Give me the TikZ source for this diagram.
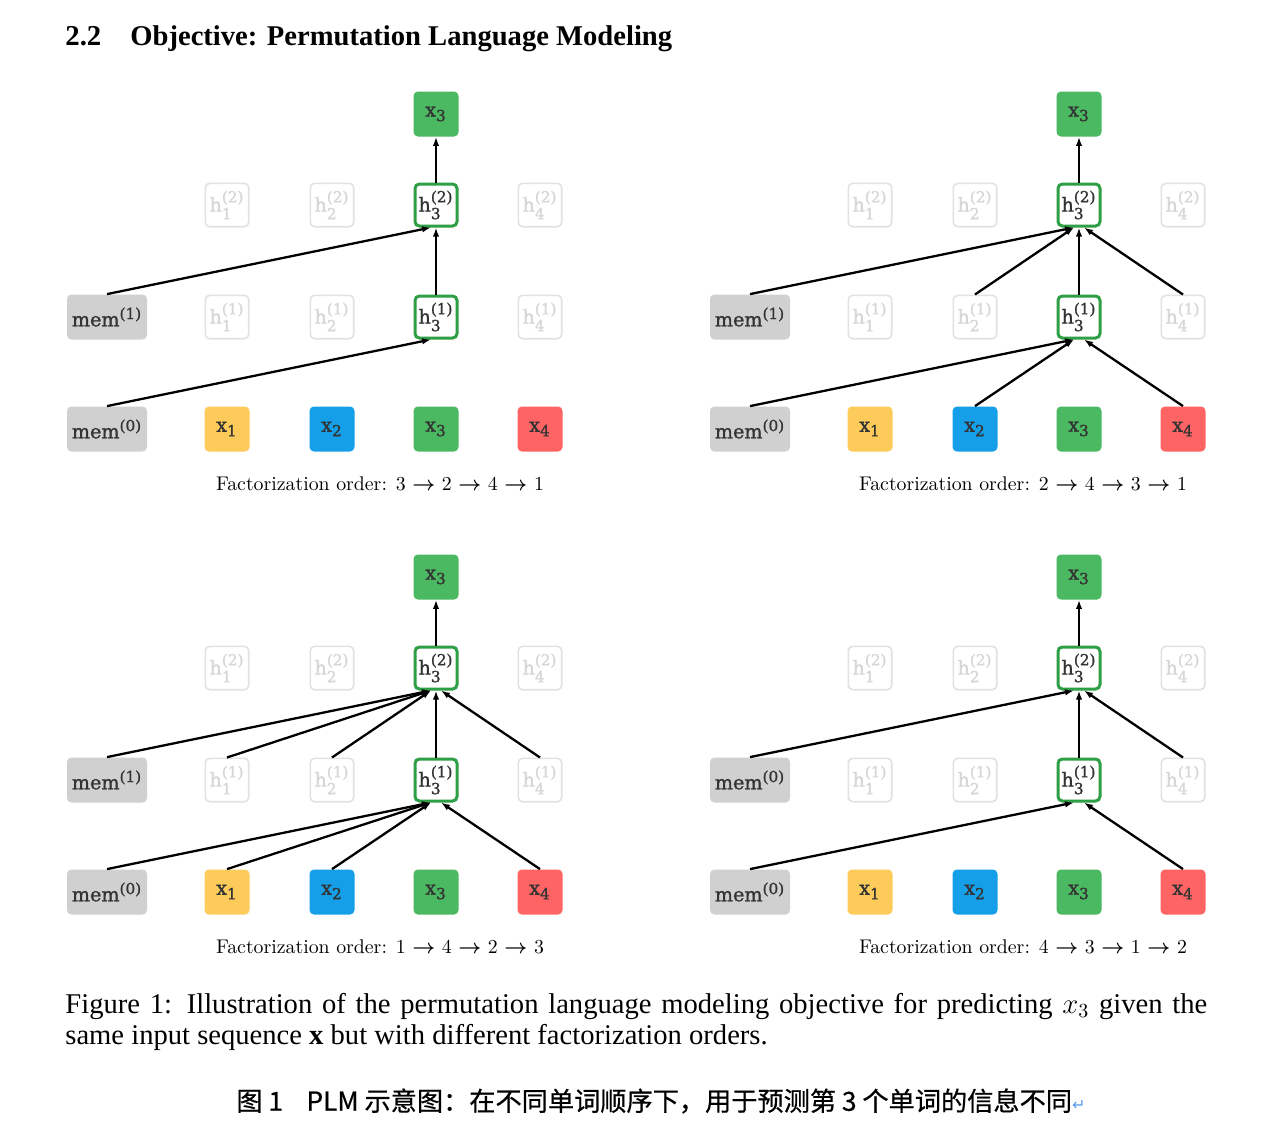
\documentclass[tikz,border=0pt]{standalone}
\usepackage{fontspec}
\usepackage{amsmath}
\newfontfamily\boxfont{DejaVu Serif}[UprightFeatures={FakeBold=1.3}]
\newfontfamily\paperfont{Liberation Serif}
\newfontfamily\cjkfont{Noto Sans CJK SC}[UprightFeatures={FakeBold=0.6}]
\newfontfamily\symbolfont{DejaVu Sans}
\DeclareMathSizes{9.6}{9.6}{7.6}{6}
\usetikzlibrary{arrows.meta}
\definecolor{memgray}{HTML}{D0D0D0}
\definecolor{xyellow}{HTML}{FDCB5A}
\definecolor{xblue}{HTML}{159FE9}
\definecolor{xgreen}{HTML}{4BB862}
\definecolor{xred}{HTML}{FF6464}
\definecolor{hgreen}{HTML}{2E9F45}
\definecolor{fadeline}{HTML}{E2E2E2}
\definecolor{fadetext}{HTML}{D6D6D6}
\definecolor{retblue}{HTML}{5B9BF0}
\tikzset{
  >={Latex[length=4.5pt,width=3.2pt]},
}
\tikzstyle{tok}=[rounded corners=2.2pt,minimum width=22.5pt,minimum height=22.5pt,inner sep=0pt,font=\boxfont\fontsize{9.6}{11}\selectfont,text=black!80]
\tikzstyle{memtok}=[tok,fill=memgray,minimum width=40pt]
\tikzstyle{hfade}=[tok,draw=fadeline,line width=0.8pt,minimum width=21.7pt,minimum height=21.7pt,text=fadetext]
\tikzstyle{hlive}=[tok,draw=hgreen,line width=1.5pt,fill=white,minimum width=21pt,minimum height=21pt]
\tikzstyle{link}=[->,line width=1.15pt]
\tikzstyle{ordtext}=[font=\fontsize{9.9}{12}\selectfont,anchor=base,inner sep=0pt]

\newcommand\hlab[2]{$\text{h}_{\text{#1}}^{\text{(#2)}}$}
\newcommand\xlab[1]{$\text{x}_{\text{#1}}$}
\newcommand\memlab[1]{$\text{mem}^{\text{(#1)}}$}
\newcommand\ordarrow{{\boldmath$\rightarrow$}}

% one panel: #1 name prefix, #2 layer of the upper mem, #3 order
\newcommand\plmpanel[3]{%
  \node[memtok] (#1m0) at (107,429) {\memlab{0}};
  \node[memtok] (#1m1) at (107,317) {\memlab{#2}};
  \node[tok,fill=xyellow] (#1x1) at (227,429) {\xlab{1}};
  \node[tok,fill=xblue] (#1x2) at (332,429) {\xlab{2}};
  \node[tok,fill=xgreen] (#1x3) at (436,429) {\xlab{3}};
  \node[tok,fill=xred] (#1x4) at (540,429) {\xlab{4}};
  \foreach \i/\cx in {1/227,2/332,4/540}{
    \node[hfade] (#1h1\i) at (\cx,317) {\hlab{\i}{1}};
    \node[hfade] (#1h2\i) at (\cx,205) {\hlab{\i}{2}};
  }
  \node[hlive] (#1h13) at (436,317) {\hlab{3}{1}};
  \node[hlive] (#1h23) at (436,205) {\hlab{3}{2}};
  \node[tok,fill=xgreen] (#1out) at (436,114) {\xlab{3}};
  \node[ordtext] (#1ord) at (380,490) {Factorization order: #3};
  \draw[link] (#1h13) -- (#1h23);
  \draw[link] (#1h23) -- (#1out);
}

\begin{document}
\begin{tikzpicture}[x=0.5pt,y=-0.5pt]
  \fill[white] (0,0) rectangle (1266,1146);

  \node[font=\paperfont\bfseries\fontsize{14.4}{17}\selectfont,anchor=base west,inner sep=0pt] (secnum) at (65,45) {2.2};
  \node[font=\paperfont\bfseries\fontsize{14.3}{17}\selectfont,anchor=base west,inner sep=0pt] (sectitle) at (130,45) {Objective: Permutation Language Modeling};

  % 3 -> 2 -> 4 -> 1
  \plmpanel{a}{1}{3 \ordarrow{} 2 \ordarrow{} 4 \ordarrow{} 1}
  \draw[link] (am0.north) -- ([xshift=-2.5pt]ah13.south);
  \draw[link] (am1.north) -- ([xshift=-2.5pt]ah23.south);

  % 2 -> 4 -> 3 -> 1
  \begin{scope}[shift={(643,0)}]
    \plmpanel{b}{1}{2 \ordarrow{} 4 \ordarrow{} 3 \ordarrow{} 1}
  \end{scope}
  \draw[link] (bm0.north) -- ([xshift=-2.5pt]bh13.south);
  \draw[link] (bx2.north) -- ([xshift=-2.5pt]bh13.south);
  \draw[link] (bx4.north) -- ([xshift=2.5pt]bh13.south);
  \draw[link] (bm1.north) -- ([xshift=-2.5pt]bh23.south);
  \draw[link] (bh12.north) -- ([xshift=-2.5pt]bh23.south);
  \draw[link] (bh14.north) -- ([xshift=2.5pt]bh23.south);

  % 1 -> 4 -> 2 -> 3
  \begin{scope}[shift={(0,463)}]
    \plmpanel{c}{1}{1 \ordarrow{} 4 \ordarrow{} 2 \ordarrow{} 3}
  \end{scope}
  \draw[link] (cm0.north) -- ([xshift=-2.5pt]ch13.south);
  \draw[link] (cx1.north) -- ([xshift=-2.5pt]ch13.south);
  \draw[link] (cx2.north) -- ([xshift=-2.5pt]ch13.south);
  \draw[link] (cx4.north) -- ([xshift=2.5pt]ch13.south);
  \draw[link] (cm1.north) -- ([xshift=-2.5pt]ch23.south);
  \draw[link] (ch11.north) -- ([xshift=-2.5pt]ch23.south);
  \draw[link] (ch12.north) -- ([xshift=-2.5pt]ch23.south);
  \draw[link] (ch14.north) -- ([xshift=2.5pt]ch23.south);

  % 4 -> 3 -> 1 -> 2
  \begin{scope}[shift={(643,463)}]
    \plmpanel{d}{0}{4 \ordarrow{} 3 \ordarrow{} 1 \ordarrow{} 2}
  \end{scope}
  \draw[link] (dm0.north) -- ([xshift=-2.5pt]dh13.south);
  \draw[link] (dx4.north) -- ([xshift=2.5pt]dh13.south);
  \draw[link] (dm1.north) -- ([xshift=-2.5pt]dh23.south);
  \draw[link] (dh14.north) -- ([xshift=2.5pt]dh23.south);

  % captions
  \node[font=\paperfont\fontsize{14.3}{17}\selectfont,anchor=base west,inner sep=0pt] (capone) at (65,1013)
    {\makebox[571pt][s]{Figure 1: Illustration of the permutation language modeling objective for predicting $x_3$ given the}};
  \node[font=\paperfont\fontsize{14.3}{17}\selectfont,anchor=base west,inner sep=0pt] (captwo) at (65,1044)
    {same input sequence \textbf{x} but with different factorization orders.};
  \node[font=\cjkfont\fontsize{13.1}{15}\selectfont,anchor=west,inner sep=0pt] (capcn) at (236,1101)
    {图 1\hspace{0.9em}PLM 示意图：在不同单词顺序下，用于预测第 3 个单词的信息不同{\symbolfont\color{retblue}\fontsize{8}{8}\selectfont ↵}};
\end{tikzpicture}
\end{document}
